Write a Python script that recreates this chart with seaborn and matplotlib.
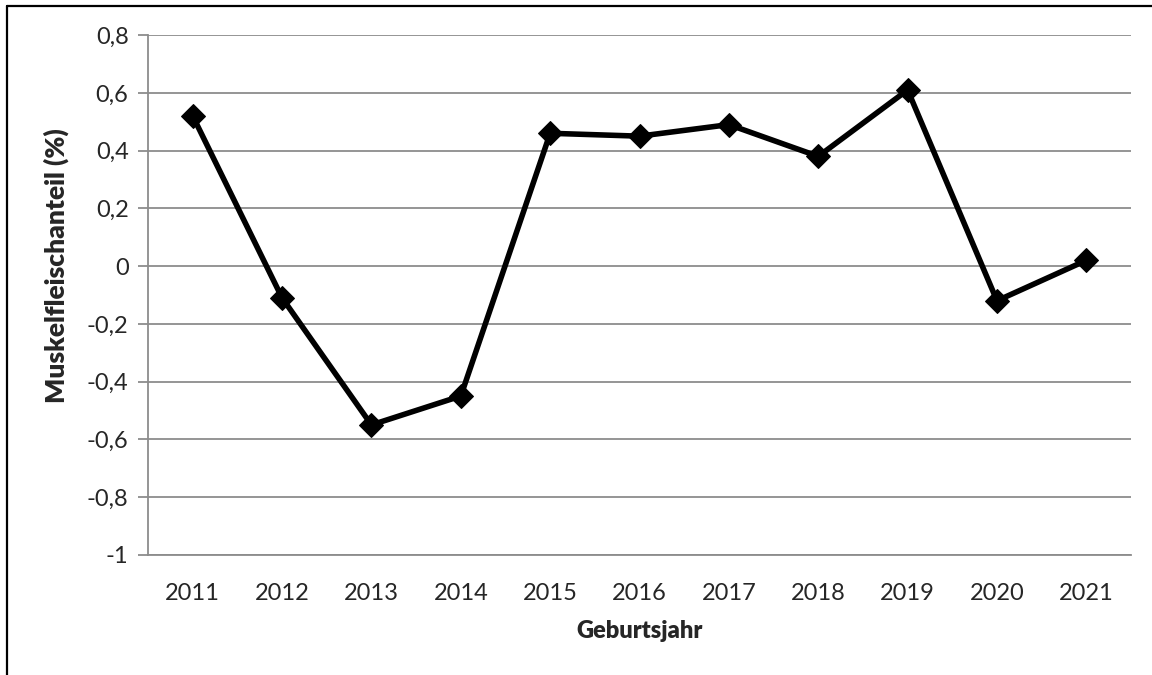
import matplotlib
matplotlib.use("Agg")
import matplotlib.pyplot as plt
import seaborn as sns
import pandas as pd
from matplotlib.lines import Line2D

years = ["2011", "2012", "2013", "2014", "2015", "2016", "2017", "2018", "2019", "2020", "2021"]
values = [0.52, -0.11, -0.55, -0.45, 0.46, 0.45, 0.49, 0.38, 0.61, -0.12, 0.02]
yticks = [-1, -0.8, -0.6, -0.4, -0.2, 0, 0.2, 0.4, 0.6, 0.8]
ytick_labels = ["-1", "-0,8", "-0,6", "-0,4", "-0,2", "0", "0,2", "0,4", "0,6", "0,8"]

sns.set_style("white")
plt.rcParams["font.family"] = ["Lato", "DejaVu Sans"]

df = pd.DataFrame({"Geburtsjahr": years, "Wert": values})

fig = plt.figure(figsize=(11.52, 6.75), dpi=100)
ax = fig.add_axes([0.1285, 0.178, 0.8533, 0.770])

sns.lineplot(data=df, x="Geburtsjahr", y="Wert", ax=ax, color="black",
             linewidth=4.0, marker="D", markersize=12.5, markeredgecolor="black",
             markerfacecolor="black", sort=False)

ax.set_xlim(-0.5, len(years) - 0.5)
ax.set_ylim(-1, 0.8)
ax.set_yticks(yticks)
ax.set_yticklabels(ytick_labels)
ax.yaxis.grid(True, color="#8c8c8c", linewidth=1.3)
ax.set_axisbelow(True)
for s in ["top", "right"]:
    ax.spines[s].set_visible(False)
ax.spines["left"].set_color("#8c8c8c")
ax.spines["left"].set_linewidth(1.3)
ax.spines["bottom"].set_color("#8c8c8c")
ax.spines["bottom"].set_linewidth(1.3)
ax.tick_params(axis="y", which="major", length=7, width=1.3, color="#8c8c8c",
               labelsize=17, pad=7, left=True)
ax.tick_params(axis="x", length=0, labelsize=17, pad=20)

ax.set_xlabel("Geburtsjahr", fontsize=17, fontweight="heavy", labelpad=12)
ax.set_ylabel("Muskelfleischanteil (%)", fontsize=19, fontweight="heavy")
ax.yaxis.set_label_coords(-0.08, 0.556)

# outer frame (left and top edges visible)
fig.add_artist(Line2D([0.0065, 0.0065], [0, 0.991], transform=fig.transFigure,
                      color="black", linewidth=1.6))
fig.add_artist(Line2D([0.0065, 1.0], [0.991, 0.991], transform=fig.transFigure,
                      color="black", linewidth=1.6))

fig.savefig("out.png", dpi=100)
